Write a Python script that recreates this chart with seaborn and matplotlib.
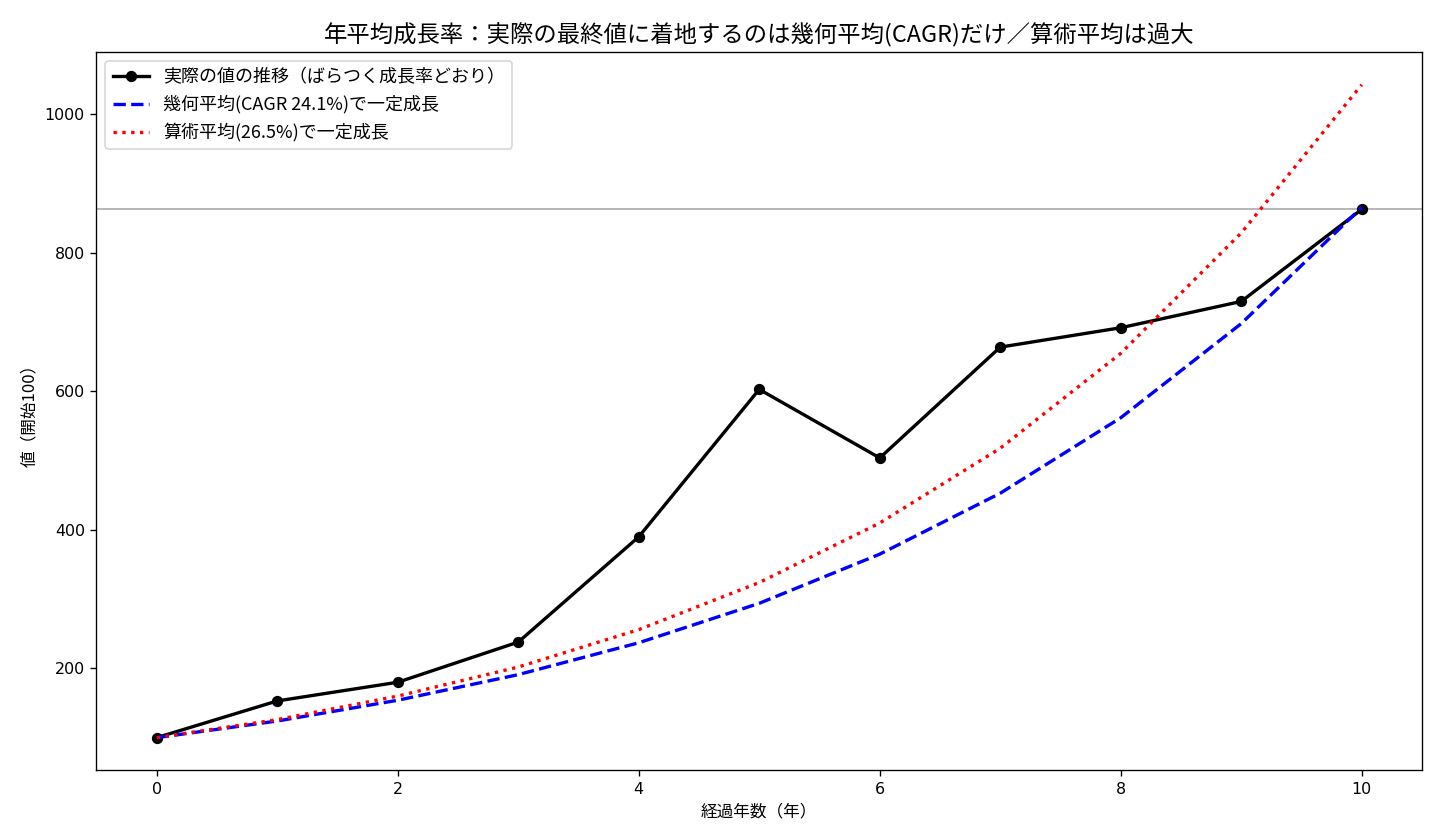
import matplotlib
matplotlib.use("Agg")
import matplotlib.pyplot as plt
import seaborn as sns
import pandas as pd

plt.rcParams['font.family'] = ['Noto Sans CJK JP', 'DejaVu Sans']
plt.rcParams['axes.unicode_minus'] = False

years = [0, 1, 2, 3, 4, 5, 6, 7, 8, 9, 10]
actual = [100, 153, 180, 238, 390, 603, 504, 664, 692, 730, 863]
geometric = [100, 124, 154, 191, 237, 294, 365, 453, 562, 698, 866]
arithmetic = [100, 126, 160, 202, 256, 324, 410, 518, 655, 829, 1043]
final_value = 863

labels = ["実際の値の推移（ばらつく成長率どおり）",
          "幾何平均(CAGR 24.1%)で一定成長",
          "算術平均(26.5%)で一定成長"]

df = pd.DataFrame({"year": years, "actual": actual,
                   "geo": geometric, "arith": arithmetic})

fig, ax = plt.subplots(figsize=(12, 7), dpi=120)
fig.subplots_adjust(left=0.067, right=0.9875, top=0.938, bottom=0.083)

sns.lineplot(data=df, x="year", y="actual", ax=ax, color="black", lw=2,
             marker="o", markersize=6, markeredgecolor="black", label=labels[0])
sns.lineplot(data=df, x="year", y="geo", ax=ax, color="blue", lw=2,
             linestyle="--", label=labels[1])
sns.lineplot(data=df, x="year", y="arith", ax=ax, color="red", lw=2,
             linestyle=":", label=labels[2])
ax.axhline(final_value, color="#aaaaaa", lw=1, zorder=0)

ax.set_title("年平均成長率：実際の最終値に着地するのは幾何平均(CAGR)だけ／算術平均は過大", fontsize=14)
ax.set_xlabel("経過年数（年）", fontsize=10)
ax.set_ylabel("値（開始100）", fontsize=10)
for lab in ax.get_xticklabels() + ax.get_yticklabels():
    lab.set_fontfamily(['DejaVu Sans'])
    lab.set_fontsize(9.5)
ax.legend(loc="upper left", fontsize=10.8)

fig.savefig("out.png", dpi=120)
